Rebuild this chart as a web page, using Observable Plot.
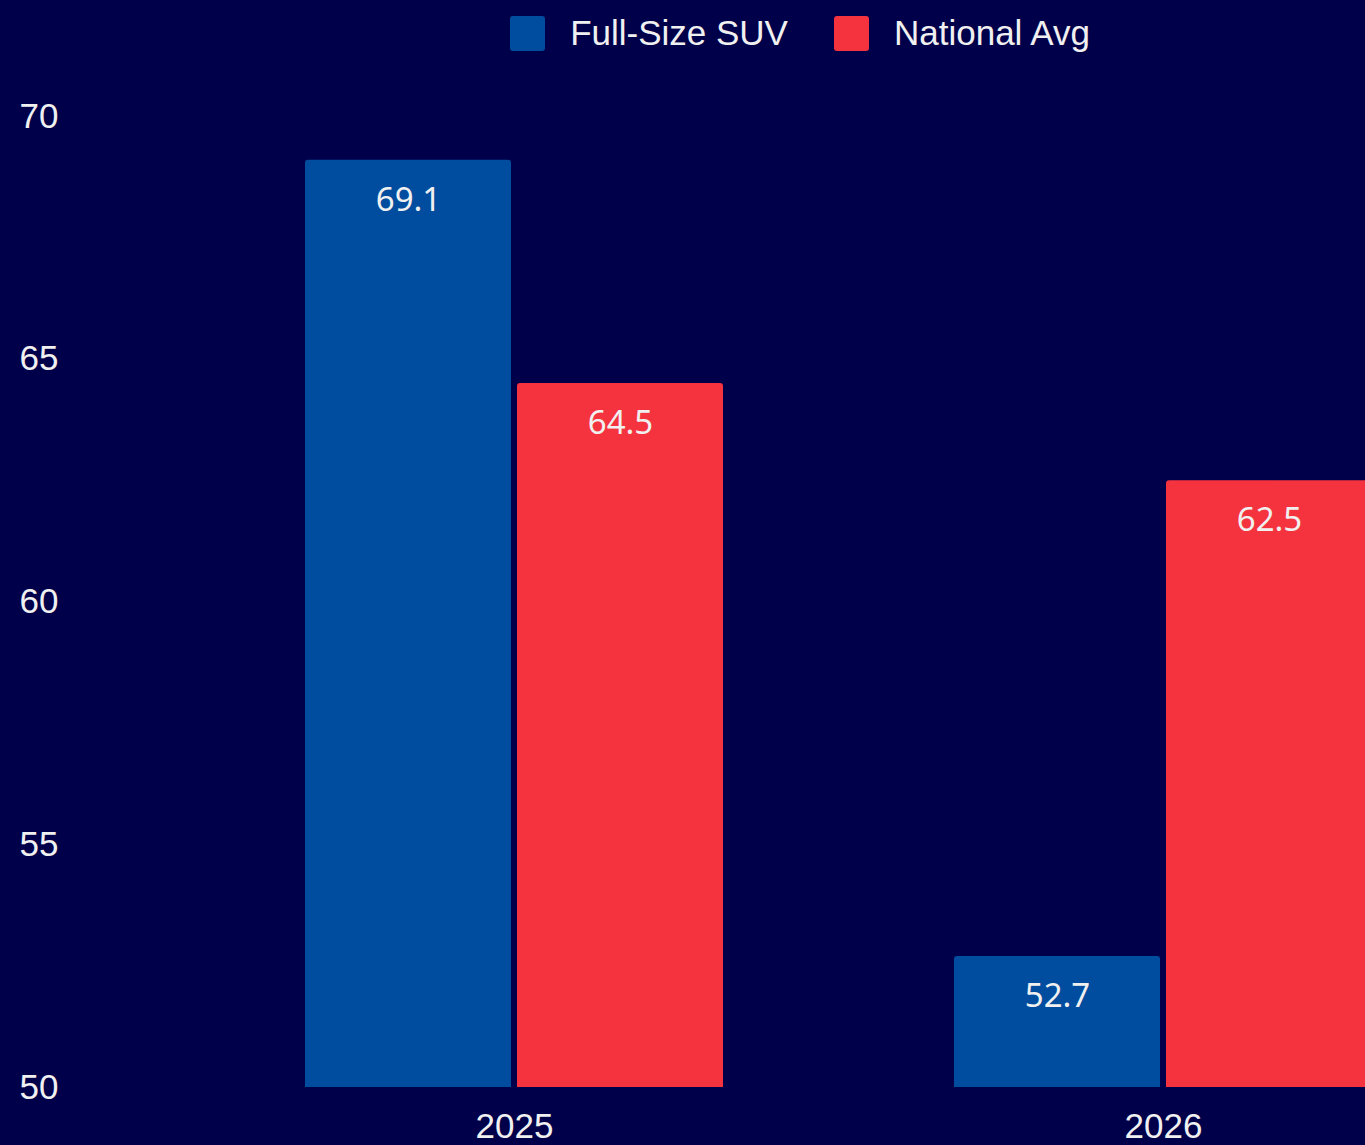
<!DOCTYPE html>
<html>
<head>
<meta charset="utf-8">
<script src="https://cdn.jsdelivr.net/npm/d3@7"></script>
<script src="https://cdn.jsdelivr.net/npm/@observablehq/plot@0.6"></script>
<style>
  html, body { margin: 0; padding: 0; background: #00004a; overflow: hidden; }
  #legend { width: 1600px; height: 66px; display: flex; justify-content: center; align-items: center;
            font-family: "Liberation Sans", Arial, sans-serif; font-size: 35px; color: #f0f0f0; }
  .item { display: flex; align-items: center; margin: 0 23px; }
  .sw { width: 35px; height: 35px; border-radius: 3px; margin-right: 25px; }
</style>
</head>
<body>
<div id="legend"></div>
<div id="chart"></div>
<script>
const years = ["2025", "2026"];
const series = ["Full-Size SUV", "National Avg"];
const suvValues = [69.1, 52.7];
const nationalValues = [64.5, 62.5];
const seriesColors = ["#004c9e", "#f5333f"];
const yTicks = [50, 55, 60, 65, 70];
const yDomain = [50, 70];

const data = years.flatMap((yr, i) => [
  {year: yr, series: series[0], value: suvValues[i]},
  {year: yr, series: series[1], value: nationalValues[i]}
]);

const legend = document.getElementById("legend");
series.forEach((s, i) => {
  const item = document.createElement("div");
  item.className = "item";
  const sw = document.createElement("div");
  sw.className = "sw";
  sw.style.background = seriesColors[i];
  const t = document.createElement("span");
  t.textContent = s;
  item.appendChild(sw);
  item.appendChild(t);
  legend.appendChild(item);
});

const chart = Plot.plot({
  width: 1610,
  height: 1079,
  marginLeft: 302,
  marginRight: 235,
  marginTop: 50,
  marginBottom: 58,
  style: {background: "transparent", color: "#f0f0f0", fontFamily: "'Liberation Sans', Arial, sans-serif", fontSize: "35px"},
  fx: {domain: years, paddingInner: 0.347, paddingOuter: 0, label: null, axis: "bottom", tickSize: 0, tickPadding: 26},
  x: {domain: series, padding: 0, axis: null},
  y: {domain: yDomain, ticks: yTicks, label: null, tickSize: 0, tickPadding: 244},
  color: {domain: series, range: seriesColors},
  marks: [
    Plot.barY(data, {fx: "year", x: "series", y: "value", fill: "series", insetLeft: 3, insetRight: 3, rx: 3, clip: true}),
    Plot.text(data, {fx: "year", x: "series", y: "value", text: d => d.value.toFixed(1), dy: 40,
      fill: "#f0f0f0", fontSize: 33, fontFamily: "'Noto Sans', sans-serif"})
  ]
});
chart.style.maxWidth = "none";
chart.style.display = "block";
document.getElementById("chart").appendChild(chart);
</script>
</body>
</html>
